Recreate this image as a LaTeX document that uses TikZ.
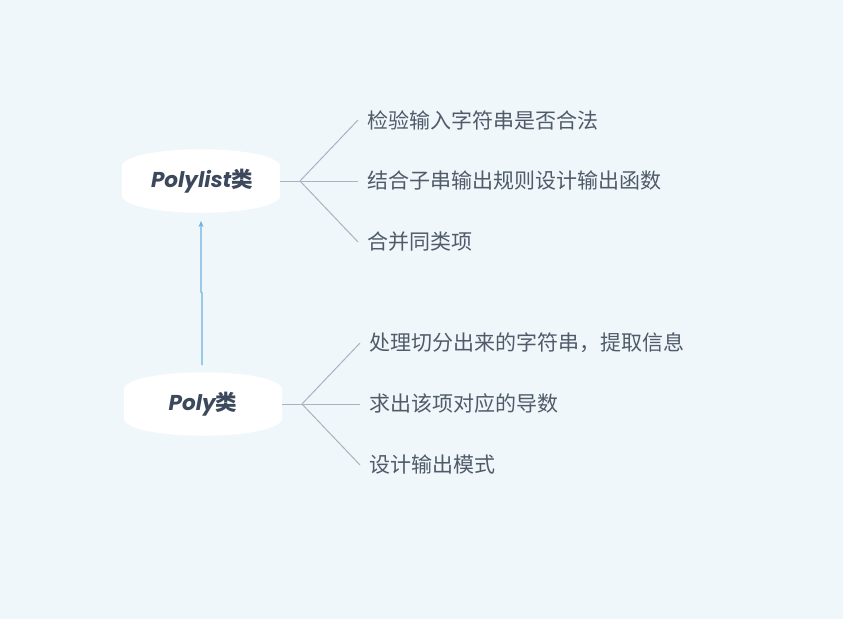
\documentclass[tikz,border=0pt]{standalone}
\usepackage{fontspec}
\setmainfont{Noto Sans CJK SC}
\newfontfamily\cjk{Noto Sans CJK SC}
\newfontfamily\latinfont{Poppins}
\usetikzlibrary{arrows.meta}
\definecolor{bgc}{HTML}{F0F7FB}
\definecolor{titlec}{HTML}{3C485C}
\definecolor{childc}{HTML}{505B6A}
\definecolor{branchc}{HTML}{A9B4C3}
\definecolor{arrowc}{HTML}{6AB2E0}
\tikzset{
  topic/.style={inner sep=0pt, minimum width=158pt, minimum height=36pt, font=\fontsize{21.5}{24}\selectfont, text=titlec},
  child/.style={anchor=west, inner sep=0pt, font=\cjk\fontsize{21}{24}\selectfont, text=childc},
  branch/.style={draw=branchc, line width=1pt},
  link/.style={draw=arrowc, line width=1.2pt, -{Stealth[length=6pt,width=5pt]}}
}
\newcommand{\barrelshape}[2]{%
  \fill[white] (#1-79,#2-16) .. controls (#1-68,#2-37) and (#1+68,#2-37) .. (#1+79,#2-16)
     -- (#1+79,#2+16) .. controls (#1+68,#2+37) and (#1-68,#2+37) .. (#1-79,#2+16) -- cycle;}
\begin{document}
\begin{tikzpicture}[x=1pt,y=-1pt]
\fill[bgc] (0,0) rectangle (843,619);
\useasboundingbox (0,0) rectangle (843,619);
% topic shapes
\barrelshape{201}{181}
\barrelshape{203}{404}
\node[topic] (pl) at (202,181) {{\latinfont\bfseries\itshape Polylist}{\cjk\bfseries 类}};
\node[topic] (p) at (203,404) {{\latinfont\bfseries\itshape Poly}{\cjk\bfseries 类}};
% upper branches
\coordinate (plj) at (300,181);
\node[child] (a1) at (367,120) {检验输入字符串是否合法};
\node[child] (a2) at (367,181) {结合子串输出规则设计输出函数};
\node[child] (a3) at (367,242) {合并同类项};
\draw[branch] (280,181) -- (plj);
\draw[branch] (plj) -- ([xshift=-9pt]a1.west);
\draw[branch] (plj) -- ([xshift=-9pt]a2.west);
\draw[branch] (plj) -- ([xshift=-9pt]a3.west);
% lower branches
\coordinate (pj) at (302,404);
\node[child] (b1) at (369,343) {处理切分出来的字符串，提取信息};
\node[child] (b2) at (369,404) {求出该项对应的导数};
\node[child] (b3) at (369,465) {设计输出模式};
\draw[branch] (282,404) -- (pj);
\draw[branch] (pj) -- ([xshift=-9pt]b1.west);
\draw[branch] (pj) -- ([xshift=-9pt]b2.west);
\draw[branch] (pj) -- ([xshift=-9pt]b3.west);
% link
\coordinate (ls) at (202,365);
\coordinate (lm1) at (202,293);
\coordinate (lm2) at (201,292);
\coordinate (le) at (201,221);
\draw[link] (ls) -- (lm1) -- (lm2) -- (le);
\end{tikzpicture}
\end{document}
